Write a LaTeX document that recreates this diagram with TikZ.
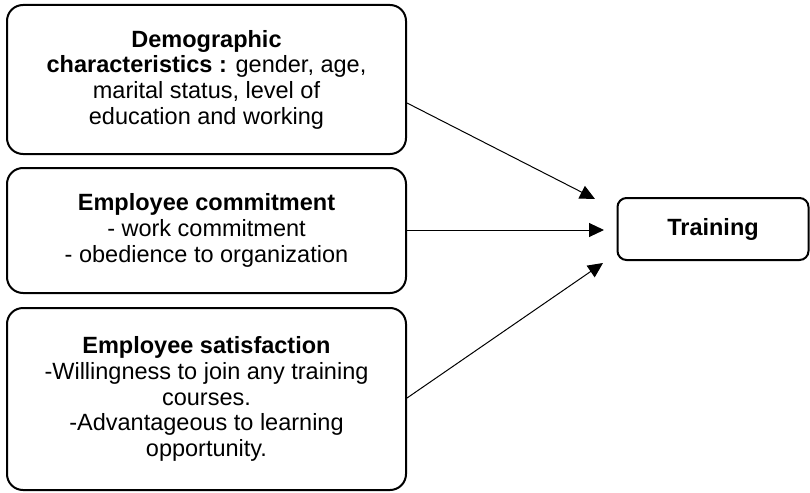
\documentclass[tikz,border=0pt]{standalone}
\usepackage{fontspec}
\setmainfont{Liberation Sans}
\usetikzlibrary{arrows.meta}
\begin{document}
\begin{tikzpicture}[x=1pt,y=-1pt,
  bigbox/.style={draw, line width=2pt, rounded corners=16pt, align=center,
    minimum width=399pt, inner sep=0pt, font=\fontsize{23.5}{25.7}\selectfont},
  smallbox/.style={draw, line width=2pt, rounded corners=9pt, align=center,
    minimum width=191pt, minimum height=62pt, inner sep=0pt, font=\fontsize{23.5}{25.7}\selectfont},
  link/.style={line width=1pt, -{Triangle[length=15pt,width=14pt]}}]
\useasboundingbox (0,0) rectangle (810,492);
\node[bigbox, minimum height=149pt] (demo) at (206.5,79.5)
  {\textbf{Demographic}\\\textbf{characteristics :} gender, age,\\marital status, level of\\education and working};
\node[bigbox, minimum height=125pt] (comm) at (206.5,230.5)
  {\textbf{Employee commitment}\\- work commitment\\- obedience to organization};
\node[bigbox, minimum height=182pt] (sat) at (206.5,399)
  {\textbf{Employee satisfaction}\\-Willingness to join any training\\courses.\\-Advantageous to learning\\opportunity.};
\node[smallbox] (train) at (713,229) {\textbf{Training}};
\coordinate (e1) at (595,199);
\coordinate (e2) at (604,230);
\coordinate (e3) at (603,263);
\draw[link] (demo.east |- 0,103) -- (e1);
\draw[link] (comm.east |- 0,230) -- (e2);
\draw[link] (sat.east |- 0,398) -- (e3);
\end{tikzpicture}
\end{document}
